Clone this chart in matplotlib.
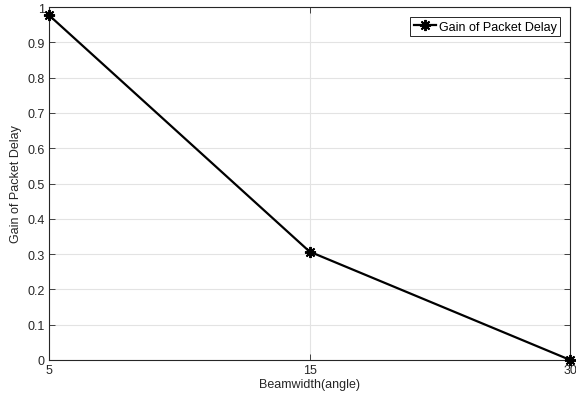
import numpy as np
import matplotlib
matplotlib.use("Agg")
import matplotlib.pyplot as plt

plt.rcParams['font.family'] = ['Liberation Sans', 'DejaVu Sans']

beamwidth = ['5', '15', '30']
gain = [0.977, 0.307, 0.0]

fig = plt.figure(figsize=(5.76, 4.02), dpi=100)
ax = fig.add_axes([0.085, 0.102, 0.905, 0.878])

pos = np.arange(len(beamwidth))
ax.plot(pos, gain, 'k-', marker=(8, 2, 0), markersize=8, markeredgewidth=1.4,
        linewidth=1.6, label='Gain of Packet Delay', clip_on=False, zorder=5)

ax.set_xlim(0, len(beamwidth) - 1)
ax.set_ylim(0, 1)
ax.set_xticks(pos)
ax.set_xticklabels(beamwidth)
ax.set_yticks(np.arange(0, 1.01, 0.1))
ax.set_yticklabels(['0', '0.1', '0.2', '0.3', '0.4', '0.5', '0.6', '0.7', '0.8', '0.9', '1'])

ax.grid(True, color='#e3e3e3', linewidth=0.8)
ax.set_axisbelow(True)
ax.tick_params(direction='in', top=True, right=True, labelsize=9,
               colors='#262626', length=4, width=0.6, pad=3)
for s in ax.spines.values():
    s.set_color('#262626')
    s.set_linewidth(0.8)

ax.set_xlabel('Beamwidth(angle)', fontsize=9, color='#262626', labelpad=1)
ax.set_ylabel('Gain of Packet Delay', fontsize=9, color='#262626', labelpad=4)

leg = ax.legend(loc='upper right', fontsize=9, fancybox=False, framealpha=1,
                edgecolor='#262626', borderpad=0.28, handlelength=1.8,
                handletextpad=0.2, borderaxespad=0.8)
leg.get_frame().set_linewidth(0.7)

fig.savefig('out.png', dpi=100)
